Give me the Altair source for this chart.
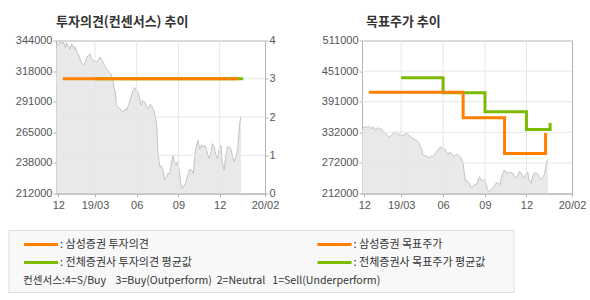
import altair as alt
import pandas as pd

ORANGE = "#ff7f00"
GREEN = "#7cbb00"
AREA_FILL = "#e0e0e0"
AREA_LINE = "#c2c2c2"
GRID = "#e6e6e6"
FRAME = "#b4b4b4"
LABEL = "#555555"
KFONT = "Noto Sans CJK KR"
NFONT = "Liberation Sans"

# ---- stock price ----
price_dates = [
    "2018-12-05", "2018-12-07", "2018-12-11", "2018-12-14", "2018-12-18", "2018-12-21",
    "2018-12-26", "2018-12-28", "2019-01-02", "2019-01-04", "2019-01-09", "2019-01-14",
    "2019-01-16", "2019-01-21", "2019-01-23", "2019-01-28", "2019-01-31", "2019-02-04",
    "2019-02-08", "2019-02-11", "2019-02-15", "2019-02-18", "2019-02-21", "2019-02-25",
    "2019-03-05", "2019-03-08", "2019-03-12", "2019-03-15", "2019-03-19", "2019-03-22",
    "2019-03-26", "2019-03-29", "2019-04-02", "2019-04-05", "2019-04-08", "2019-04-10",
    "2019-04-12", "2019-04-15", "2019-04-17", "2019-04-22", "2019-04-25", "2019-04-29",
    "2019-05-02", "2019-05-07", "2019-05-09", "2019-05-14", "2019-05-17", "2019-05-21",
    "2019-05-24", "2019-05-28", "2019-05-31", "2019-06-04", "2019-06-07", "2019-06-11",
    "2019-06-14", "2019-06-19", "2019-06-24", "2019-06-26", "2019-07-01", "2019-07-03",
    "2019-07-05", "2019-07-09", "2019-07-12", "2019-07-15", "2019-07-18", "2019-07-22",
    "2019-07-25", "2019-07-29", "2019-08-02", "2019-08-06", "2019-08-09", "2019-08-13",
    "2019-08-16", "2019-08-20", "2019-08-23", "2019-08-27", "2019-08-30", "2019-09-03",
    "2019-09-06", "2019-09-09", "2019-09-16", "2019-09-20", "2019-09-23", "2019-09-26",
    "2019-09-30", "2019-10-04", "2019-10-08", "2019-10-14", "2019-10-18", "2019-10-22",
    "2019-10-25", "2019-10-29", "2019-11-01", "2019-11-05", "2019-11-08", "2019-11-12",
    "2019-11-15", "2019-11-19", "2019-11-22", "2019-11-26", "2019-11-29", "2019-12-04",
    "2019-12-06", "2019-12-11", "2019-12-13", "2019-12-18", "2019-12-23", "2019-12-26",
    "2019-12-30", "2020-01-02", "2020-01-06", "2020-01-10", "2020-01-14", "2020-01-17",
]
price_values = [
    336000, 342000, 340000, 343500, 341000, 343000,
    338000, 342000, 339000, 336000, 341000, 337000,
    338500, 333000, 332500, 327000, 324000, 322500,
    326000, 329700, 331000, 332500, 328000, 326800,
    325300, 327000, 329700, 328200, 325000, 322500,
    320000, 318200, 316500, 315300, 312000, 309600,
    303000, 299500, 288000, 286000, 285200, 283000,
    282300, 285000, 283700, 288000, 292400, 297000,
    301000, 303300, 300500, 299500, 295000, 288000,
    292000, 290900, 286000, 285200, 289000, 288000,
    286500, 283700, 278000, 272300, 246400, 235000,
    236000, 232100, 223500, 226000, 229200, 229000,
    236000, 245000, 239000, 236400, 239300, 232000,
    220600, 216300, 220600, 225000, 229200, 233000,
    232100, 229200, 247900, 257900, 250700, 254000,
    252200, 253500, 251500, 245000, 242100, 248000,
    255000, 252200, 246000, 242100, 249000, 253600,
    240000, 232100, 240000, 252200, 252000, 250000,
    243000, 239300, 243600, 250700, 272300, 278600,
]

# ---- investment opinion ----
opinion_sam_dates = ["2018-12-20", "2020-01-11"]
opinion_sam_values = [3, 3]
opinion_cons_dates = ["2019-03-01", "2020-01-22"]
opinion_cons_values = [3, 3]

# ---- target price ----
target_sam_dates = ["2018-12-20", "2019-07-15", "2019-10-14", "2020-01-12"]
target_sam_values = [410000, 360000, 290000, 330000]
target_cons_dates = ["2019-03-01", "2019-06-01", "2019-09-01", "2019-12-01", "2020-01-22"]
target_cons_values = [438000, 409000, 372000, 337000, 350000]

# ---- axes ----
x_domain = [(2018, 12, 5), (2020, 3, 10)]
x_tick_dates = [(2018, 12, 10), (2019, 3, 1), (2019, 6, 1), (2019, 9, 1), (2019, 12, 1), (2020, 3, 10)]
x_tick_labels = ["12", "19/03", "06", "09", "12", "20/02"]
grid_dates = ["2019-03-01", "2019-06-01", "2019-09-01", "2019-12-01"]
price_ticks_left = [212000, 238400, 264800, 291200, 317600, 344000]
price_ticks_right = [212000, 271800, 331600, 391400, 451200, 511000]
opinion_ticks = [0, 1, 2, 3, 4]
opinion_grid = [1, 2, 3]

legend_labels = [": 삼성증권 투자의견", ": 삼성증권 목표주가",
                 ": 전체증권사 투자의견 평균값", ": 전체증권사 목표주가 평균값"]
legend_colors = [ORANGE, ORANGE, GREEN, GREEN]
legend_cols = [0, 1, 0, 1]
legend_rows = [0, 0, 1, 1]
NB = "\u00a0"
note_text = ("컨센서스:4=S/Buy" + NB * 4 + "3=Buy(Outperform)" + NB * 2 +
             "2=Neutral" + NB * 3 + "1=Sell(Underperform)")


def dt(t):
    return alt.DateTime(year=t[0], month=t[1], date=t[2], utc=True)


parts = []
for (yy, mm, dd), lab in zip(x_tick_dates, x_tick_labels):
    parts.append(f"utcFormat(datum.value, '%Y-%m-%d') == '{yy:04d}-{mm:02d}-{dd:02d}' ? '{lab}'")
x_label_expr = " : ".join(parts) + " : ''"
price_label_expr = "format(round(datum.value / 1000) * 1000, 'd')"


def xenc():
    return alt.X(
        "date:T",
        scale=alt.Scale(type="utc", domain=[dt(x_domain[0]), dt(x_domain[1])]),
        axis=alt.Axis(values=[dt(t) for t in x_tick_dates], labelExpr=x_label_expr,
                      title=None, grid=False, labelFlush=False, labelOverlap=False,
                      labelPadding=3),
    )


price_df = pd.DataFrame({"date": price_dates, "price": price_values})
grid_df = pd.DataFrame({"date": grid_dates})


# ================= left panel =================
def y_left():
    return alt.Y("price:Q", scale=alt.Scale(domain=[price_ticks_left[0], price_ticks_left[-1]]),
                 axis=alt.Axis(values=price_ticks_left, labelExpr=price_label_expr, title=None,
                               grid=False, orient="left", labelOverlap=False))


def y_op():
    return alt.Y("op:Q", scale=alt.Scale(domain=[opinion_ticks[0], opinion_ticks[-1]]),
                 axis=alt.Axis(values=opinion_ticks, title=None, grid=False, orient="right",
                               labelOverlap=False, format="d"))


area_l = alt.Chart(price_df).mark_area(
    color=AREA_FILL, line={"color": AREA_LINE, "strokeWidth": 1}, clip=True
).encode(x=xenc(), y=y_left(), y2=alt.datum(price_ticks_left[0]))

vgrid_l = alt.Chart(grid_df).mark_rule(color=GRID, strokeWidth=1).encode(x=xenc())

hgrid_l = alt.Chart(pd.DataFrame({"op": opinion_grid})).mark_rule(
    color=GRID, strokeWidth=1).encode(y=y_op())
op_cons = alt.Chart(pd.DataFrame({"date": opinion_cons_dates, "op": opinion_cons_values})).mark_line(
    color=GREEN, strokeWidth=3).encode(x=xenc(), y=y_op())
op_sam = alt.Chart(pd.DataFrame({"date": opinion_sam_dates, "op": opinion_sam_values})).mark_line(
    color=ORANGE, strokeWidth=3).encode(x=xenc(), y=y_op())

opinion_layer = alt.layer(hgrid_l, op_cons, op_sam)

left = alt.layer(area_l, vgrid_l, opinion_layer).resolve_scale(y="independent").properties(
    width=209, height=153,
    title=alt.TitleParams("투자의견(컨센서스) 추이", anchor="start", frame="group", font=KFONT,
                          fontSize=13, fontWeight="bold", color="#333333", offset=6),
)


# ================= right panel =================
def y_right():
    return alt.Y("price:Q", scale=alt.Scale(domain=[price_ticks_right[0], price_ticks_right[-1]]),
                 axis=alt.Axis(values=price_ticks_right, labelExpr=price_label_expr, title=None,
                               grid=False, orient="left", labelOverlap=False))


area_r = alt.Chart(price_df).mark_area(
    color=AREA_FILL, line={"color": AREA_LINE, "strokeWidth": 1}, clip=True
).encode(x=xenc(), y=y_right(), y2=alt.datum(price_ticks_right[0]))
vgrid_r = alt.Chart(grid_df).mark_rule(color=GRID, strokeWidth=1).encode(x=xenc())
hgrid_r = alt.Chart(pd.DataFrame({"price": price_ticks_right[1:-1]})).mark_rule(
    color=GRID, strokeWidth=1).encode(y=y_right())
tg_cons = alt.Chart(pd.DataFrame({"date": target_cons_dates, "price": target_cons_values})).mark_line(
    color=GREEN, strokeWidth=3, interpolate="step-after").encode(x=xenc(), y=y_right())
tg_sam = alt.Chart(pd.DataFrame({"date": target_sam_dates, "price": target_sam_values})).mark_line(
    color=ORANGE, strokeWidth=3, interpolate="step-after").encode(x=xenc(), y=y_right())

right = alt.layer(area_r, vgrid_r, hgrid_r, tg_cons, tg_sam).properties(
    width=210, height=153,
    title=alt.TitleParams("목표주가 추이", anchor="start", frame="group", font=KFONT, dx=4,
                          fontSize=13, fontWeight="bold", color="#333333", offset=6),
)

# ================= legend box =================
# the legend row shares its origin with the left plot; its frame reaches out to the page's left margin
legend_df = pd.DataFrame({"label": legend_labels, "color": legend_colors,
                          "col": legend_cols, "row": legend_rows})
lx = alt.X("col:Q", scale=alt.Scale(domain=[0, 1], range=[-15, 278.5]), axis=None)
ly = alt.Y("row:Q", scale=alt.Scale(domain=[0, 1], range=[14, 32]), axis=None)

box = alt.Chart(pd.DataFrame({"k": [0]})).mark_rect(
    fill="#f8f8f8", stroke="#dddddd", strokeWidth=1
).encode(x=alt.value(-47), x2=alt.value(458), y=alt.value(0), y2=alt.value(62))
swatch = alt.Chart(legend_df).mark_rule(strokeWidth=3, xOffset=-17, x2Offset=17).encode(
    x=lx, x2="col:Q", y=ly, color=alt.Color("color:N", scale=None))
labels = alt.Chart(legend_df).mark_text(
    align="left", baseline="middle", dx=19, font=KFONT, fontSize=11, color="#333333"
).encode(x=lx, y=ly, text="label:N")
note = alt.Chart(pd.DataFrame({"note": [note_text]})).mark_text(
    align="left", baseline="middle", font=KFONT, fontSize=10.6, color="#333333"
).encode(x=alt.value(-33), y=alt.value(50), text="note:N")

legend = alt.layer(box, swatch, labels, note).properties(
    width=458, height=62, view=alt.ViewBackground(stroke="transparent", fill="transparent"))

chart = alt.vconcat(
    alt.hconcat(left, right, spacing=40),
    legend,
    spacing=18,
).properties(
    padding={"left": 8, "top": 14.5, "right": 0, "bottom": 0},
    background="white",
).configure_view(stroke=FRAME).configure_axis(
    domainColor=FRAME, tickColor=FRAME, tickSize=3, labelColor=LABEL, labelFont=NFONT,
    labelFontSize=11, labelPadding=1, zindex=1,
)

chart.save("out.html", embed_options={"renderer": "svg", "actions": False})
